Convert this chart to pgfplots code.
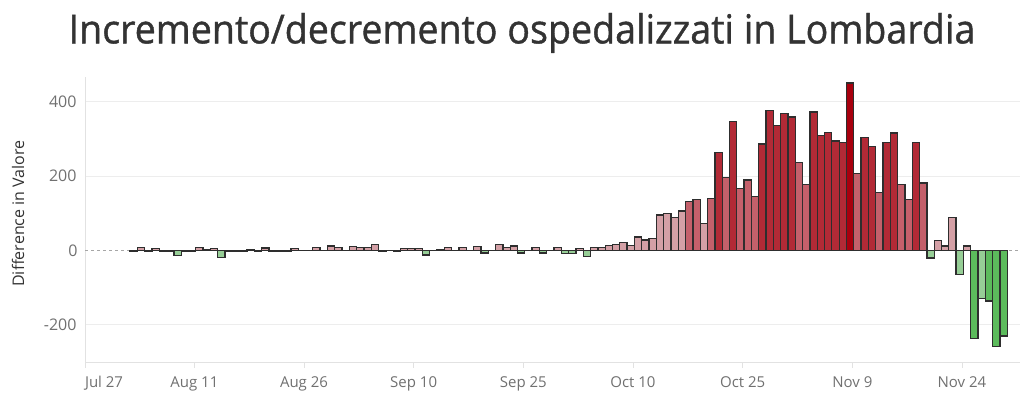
\documentclass[border=0pt]{standalone}
\usepackage{pgfplots}
\pgfplotsset{compat=1.18}
\usepackage{pgfplotstable}
\usepackage{fontspec}
\setmainfont{Open Sans}
\newfontfamily\titlefont[FakeStretch=0.94,FakeBold=1]{Open Sans}
\definecolor{titlegray}{HTML}{333333}
\definecolor{tickgray}{HTML}{707070}
\definecolor{gridgray}{HTML}{EDEDED}
\definecolor{axisgray}{HTML}{E2E2E2}
\definecolor{barline}{HTML}{2E2E2E}
\definecolor{gdark}{HTML}{5CBB5C}
\definecolor{glight}{HTML}{96CE96}
\definecolor{plight}{HTML}{D4A0A6}
\definecolor{pmed}{HTML}{C4606B}
\definecolor{rdark}{HTML}{B22A36}
\definecolor{rdeep}{HTML}{A8000E}

\pgfplotstableread{
x y
0 -3
1 9
2 -3
3 5
4 -2
5 -3
6 -13
7 -3
8 -3
9 9
10 2
11 5
12 -18
13 -3
14 -3
15 -3
16 2
17 -2
18 7
19 -3
20 -3
21 -3
22 6
23 0
24 0
25 9
26 0
27 12
28 9
29 0
30 10
31 9
32 9
33 16
34 -3
35 0
36 -3
37 5
38 5
39 5
40 -12
41 0
42 2
43 9
44 0
45 9
46 0
47 10
48 -7
49 0
50 17
51 9
52 12
53 -7
54 0
55 9
56 -7
57 0
58 9
59 -8
60 -8
61 6
62 -17
63 9
64 9
65 14
66 17
67 21
68 13
69 36
70 28
71 32
72 96
73 99
74 88
75 106
76 132
77 137
78 73
79 140
80 264
81 196
82 347
83 167
84 190
85 145
86 287
87 377
88 336
89 369
90 359
91 237
92 178
93 373
94 309
95 317
96 295
97 290
98 451
99 208
100 305
101 280
102 156
103 290
104 316
105 178
106 137
107 290
108 182
109 -20
110 27
111 12
112 88
113 -65
114 12
115 -237
116 -129
117 -136
118 -259
119 -230
}\data

\begin{document}
\begin{tikzpicture}[x=1pt,y=1pt]
\useasboundingbox (0,0) rectangle (1024,409);
\node[font=\titlefont\fontsize{40}{48}\selectfont, text=titlegray] at (522,376) {Incremento/decremento ospedalizzati in Lombardia};
\begin{axis}[
  at={(85pt,47pt)}, anchor=south west,
  scale only axis, width=935pt, height=285pt,
  xmin=-6.66, xmax=121.24, ymin=-300, ymax=467,
  axis x line*=bottom, axis y line*=left,
  axis line style={axisgray, line width=0.8pt, -},
  xtick={-6.66,8.3,23.3,38.3,53.3,68.3,83.3,98.3,113.3},
  xticklabels={\makebox[0pt][l]{Jul 27},Aug 11,Aug 26,Sep 10,Sep 25,Oct 10,Oct 25,Nov 9,Nov 24},
  x tick style={axisgray, line width=0.8pt},
  tick align=outside, major tick length=6pt,
  xticklabel style={font=\fontsize{15}{16}\selectfont, text=tickgray, yshift=-5pt},
  ytick={-200,200,400},
  yticklabels={-200,200,400},
  y tick style={draw=none},
  yticklabel style={font=\fontsize{16}{17}\selectfont, text=tickgray, xshift=1pt},
  extra y ticks={0},
  extra y tick labels={0},
  extra y tick style={grid style={dashed, color=black!35, line width=0.6pt}, yticklabel style={font=\fontsize{16}{17}\selectfont, text=tickgray, xshift=1pt}},
  ymajorgrids, grid style={gridgray, line width=0.8pt},
  ylabel={Difference in Valore},
  every axis y label/.style={at={(axis description cs:-0.0717,0.521)}, rotate=90, anchor=center, font=\fontsize{16}{18}\selectfont, text=titlegray},
  clip=false,
]
\pgfplotsset{every axis plot/.append style={ybar, bar width=1, bar shift=0pt, draw=barline, line width=1.3pt}}
\addplot[fill=gdark, restrict y to domain=-1000:-133] table[x=x,y=y] {\data};
\addplot[fill=glight, restrict y to domain=-132.9:-0.01] table[x=x,y=y] {\data};
\addplot[fill=plight, restrict y to domain=0:119.9] table[x=x,y=y] {\data};
\addplot[fill=pmed, restrict y to domain=120:249.9] table[x=x,y=y] {\data};
\addplot[fill=rdark, restrict y to domain=250:399.9] table[x=x,y=y] {\data};
\addplot[fill=rdeep, restrict y to domain=400:1000] table[x=x,y=y] {\data};
\end{axis}
\end{tikzpicture}
\end{document}
